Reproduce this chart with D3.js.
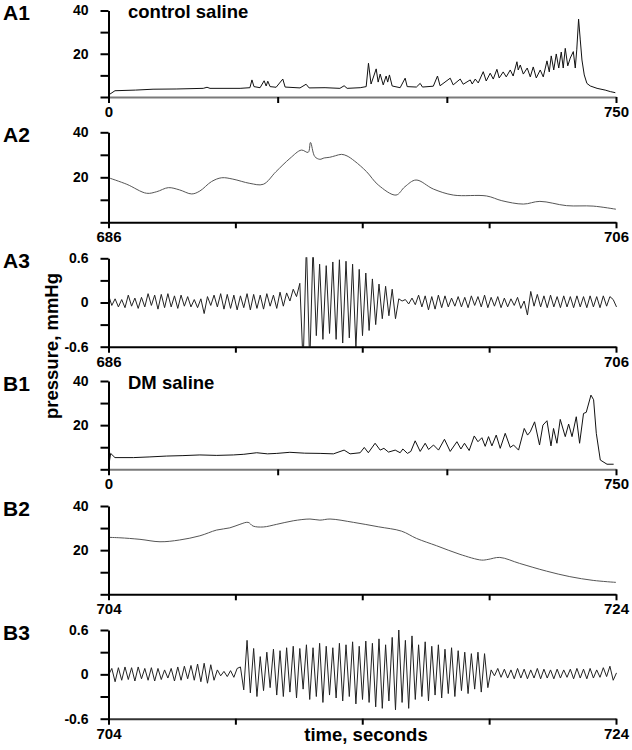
<!DOCTYPE html>
<html>
<head>
<meta charset="utf-8">
<script src="https://cdn.jsdelivr.net/npm/d3@7"></script>
<style>
body { margin: 0; background: #fff; }
svg { display: block; }
text { font-family: "Liberation Sans", Arial, sans-serif; font-weight: bold; fill: #000; }
</style>
</head>
<body>
<div id="chart"></div>
<script>
// ---- data ----
// A1 / B1: whole recording, [seconds, mmHg]
var a1Trace = [[0,0.9],[9.6,2.9],[40,3.2],[65.8,3.6],[100,3.7],[140,4.0],[145.6,4.5],[150,4.0],[194.5,4.0],[209,4.3],[212,7.9],[215,4.8],[224,4.3],[230,7.5],[233,5.1],[235.4,7.3],[238.8,4.8],[247.7,4.5],[257.6,8.3],[261,4.6],[283,4.2],[292,5.9],[296.5,4.2],[320,4.3],[342,4.0],[348.2,5.2],[352.7,4.0],[372,4.3],[380.8,4.8],[384.2,15.6],[388,6.0],[395.6,13],[398.5,6.9],[401.5,10.6],[406,5.6],[410.3,9.7],[412.6,6.9],[415.2,10.2],[419.2,5.1],[431,4.3],[438.4,8.7],[441.4,4.8],[455,4.6],[460.6,6.3],[464,4.6],[480,5.0],[486.2,9.7],[490,5.2],[505,8.7],[509.4,5.6],[519.8,8.3],[524.2,5.9],[534.6,7.9],[537.5,6.0],[542,8.3],[546.4,6.5],[553.8,11.7],[558.2,7.4],[564.1,11],[568.6,8.3],[574,12.8],[577.4,8.8],[583.3,11.6],[587.8,9.3],[593.7,12.5],[598,9.7],[603.6,16.3],[605.5,12.5],[608.5,14.8],[613,10.6],[618.8,13.4],[623.3,9.3],[627.7,13.9],[632.2,8.8],[638,12.5],[642.5,9.3],[648,16.7],[651.4,11.6],[654.3,19],[658,12.5],[661.7,19.9],[665.4,13.4],[669.1,20.8],[672,13.4],[675,22.5],[678.7,14.4],[682.4,18],[686.9,21],[689.8,13.4],[692,21.8],[694.7,36],[697.2,26.4],[699.7,17.1],[703.1,10.2],[707,6.3],[712,5.1],[722,4.0],[734,3.2],[741.6,2.5],[749,2.0]];

var b1Trace = [[0,0.9],[3.2,7.2],[9.6,5.3],[36.7,5.3],[60,5.6],[86,6.0],[110,6.2],[135,6.5],[160,6.3],[184.5,6.5],[200,6.8],[219,7.5],[235,7.0],[248.7,7.2],[268,7.7],[290,7.3],[312.7,7.2],[332.4,7.0],[348.2,8.7],[357,7.0],[371.9,7.5],[378,9.9],[384,7.5],[394,11.8],[401.5,8.7],[407,9.5],[413.8,7.8],[423.7,8.7],[431,7.5],[435,9.2],[441.8,7.2],[446.8,8.1],[453.2,12.9],[460.6,8.1],[468,11.8],[473,9.0],[480.3,11],[487.7,8.7],[496.5,13.6],[505,8.1],[514.9,12.5],[520.8,9.2],[526.1,11.8],[533,8.5],[540.5,15.1],[546,12.5],[551.8,14.3],[556.7,10.4],[561.6,14.8],[566.6,10.6],[573,15.5],[578.9,9.5],[586.3,16.3],[593.7,9.9],[598.6,11],[606,8.7],[614.4,18.5],[619.3,15.5],[623.3,17],[629.7,21.5],[637,11],[642,20],[648,22],[653.9,10.6],[657.7,18.5],[662.7,11.8],[667.6,22.6],[675,14.8],[680,20.5],[685,14.8],[691.3,23.8],[696.2,11.8],[702,25.3],[706,25.8],[713,33.6],[716.9,31.5],[720.9,16.3],[726.8,4.2],[736.7,2.3],[746.5,2.3]];

// A2 / B2: 20 s windows, [seconds, mmHg]
var a2Trace = [[686,19.8],[686.72,16.9],[687.5,12.9],[687.9,13.6],[688.36,15.4],[688.8,14.4],[689.28,12.6],[689.6,13.9],[690.06,18.1],[690.46,19.8],[690.9,19.2],[691.57,17.3],[692.1,16.9],[692.6,22.5],[693.15,28.4],[693.6,32.1],[693.87,31.1],[693.96,35.5],[694.13,29.2],[694.33,28.0],[694.5,28.6],[694.72,28.9],[694.95,29.6],[695.18,30.2],[695.4,29.5],[695.7,27.2],[696.17,22.5],[696.63,16.6],[697.33,12.1],[697.68,15.8],[698.12,18.8],[698.8,14.8],[699.59,12.1],[700.9,11.7],[701.5,9.6],[702.35,8.1],[703,9.3],[704.05,7.4],[705.1,7.2],[706,5.8]];

var b2Trace = [[704,25.8],[704.45,25.6],[705.24,24.9],[706.03,23.8],[706.8,24.6],[707.6,26.5],[708.26,29.1],[708.78,30.1],[709.18,31.7],[709.5,32.6],[709.7,30.9],[710.1,30.5],[710.63,31.7],[711.28,33.3],[711.94,34.1],[712.33,33.6],[712.73,34.1],[713.65,32.6],[714.63,30.6],[715.55,28.6],[716.14,25.3],[716.93,22],[717.85,18.1],[718.7,15.5],[718.96,15.8],[719.42,16.7],[720.2,14],[721.26,10.5],[722.18,8],[723.1,6.3],[724,5.4]];

// A3 / B3: filtered trace, one value per 0.13 s (peaks and troughs), mmHg
var a3Start = 686, b3Start = 704, oscStep = 0.13;
var a3Values = [0.10,-0.04,0.05,-0.06,0.04,-0.07,0.10,-0.05,0.06,-0.08,
  0.07,-0.06,0.12,-0.04,0.10,-0.09,0.11,-0.07,0.12,-0.06,
  0.09,-0.08,0.10,-0.05,0.08,-0.06,0.04,-0.07,0.05,-0.15,
  0.08,-0.04,0.10,-0.06,0.12,-0.09,0.11,-0.08,0.10,-0.10,
  0.09,-0.07,0.12,-0.10,0.11,-0.08,0.10,-0.09,0.12,-0.05,
  0.10,-0.08,0.14,-0.05,0.13,0.02,0.18,0.08,0.26,-0.85,
  0.80,-0.85,0.75,-0.45,0.52,-0.50,0.50,-0.42,0.55,-0.50,
  0.58,-0.55,0.56,-0.48,0.52,-0.62,0.45,-0.45,0.40,-0.38,
  0.32,-0.30,0.25,-0.22,0.22,-0.18,0.18,-0.22,0.05,0.02,
  0.04,-0.02,0.06,-0.03,0.10,-0.06,0.09,-0.10,0.08,-0.09,
  0.10,-0.07,0.09,-0.06,0.06,-0.05,0.08,-0.06,0.07,-0.07,
  0.09,-0.04,0.08,-0.06,0.10,-0.07,0.07,-0.05,0.08,-0.07,
  0.06,-0.06,0.05,-0.04,0.07,-0.08,0.02,-0.17,0.15,-0.05,
  0.11,-0.06,0.09,-0.07,0.10,-0.06,0.08,-0.07,0.09,-0.06,
  0.08,-0.07,0.09,-0.06,0.08,-0.07,0.09,-0.06,0.08,-0.07,
  0.09,-0.05,0.08,0.04,-0.06];

var b3Values = [-0.01,0.08,-0.10,0.09,-0.08,0.10,-0.07,0.09,-0.09,0.10,
  -0.06,0.08,-0.08,0.09,-0.09,0.08,-0.07,0.06,-0.05,0.08,
  -0.09,0.10,-0.08,0.11,-0.06,0.12,-0.08,0.14,-0.10,0.15,
  -0.12,0.13,-0.08,0.06,-0.02,0.04,-0.03,0.05,-0.04,0.08,
  0.10,-0.21,0.46,-0.25,0.35,-0.30,0.24,-0.22,0.30,-0.18,
  0.34,-0.28,0.32,-0.30,0.36,-0.24,0.38,-0.32,0.35,-0.20,
  0.40,-0.34,0.36,-0.30,0.42,-0.38,0.38,-0.28,0.36,-0.32,
  0.42,-0.36,0.40,-0.30,0.44,-0.40,0.38,-0.34,0.45,-0.38,
  0.42,-0.44,0.48,-0.46,0.40,-0.36,0.50,-0.48,0.60,-0.38,
  0.46,-0.46,0.52,-0.34,0.40,-0.30,0.44,-0.36,0.38,-0.28,
  0.40,-0.32,0.34,-0.26,0.36,-0.30,0.32,-0.22,0.30,-0.26,
  0.28,-0.20,0.30,-0.24,0.28,-0.18,0.06,-0.02,0.08,-0.04,
  0.07,-0.05,0.06,-0.06,0.08,-0.05,0.07,-0.06,0.06,-0.05,
  0.08,-0.06,0.07,-0.05,0.06,-0.06,0.07,-0.05,0.06,-0.04,
  0.07,-0.06,0.08,-0.05,0.07,-0.06,0.08,-0.05,0.06,-0.04,
  0.09,-0.03,0.11,-0.08,0.02];

var panelNames = ["A1", "A2", "A3", "B1", "B2", "B3"];
var panelTitles = ["control saline", "", "", "DM saline", "", ""];
var longTicks = [0, 250, 500, 750];
var pressureTicks = [0, 10, 20, 30, 40];
var pressureLabels = [20, 40];
var oscTicks = [-0.6, -0.3, 0, 0.3, 0.6];
var oscLabels = [-0.6, 0, 0.6];

// ---- layout ----
var width = 632, height = 750;
var left = 108.5, right = 616;

function toPairs(start, vals) {
    return vals.map(function(v, i) { return [start + i * oscStep, v]; });
}

var panels = [
    { top: 10.5, h: 86.5, xDom: [0, 750], xTicks: longTicks, yDom: [0, 40], yTicks: pressureTicks, yLabels: pressureLabels, data: a1Trace, axisColor: "#7a7a7a", line: "#111", curve: d3.curveLinear },
    { top: 132.3, h: 90, xDom: [686, 706], xTicks: [686, 691, 696, 701, 706], yDom: [0, 40], yTicks: pressureTicks, yLabels: pressureLabels, data: a2Trace, axisColor: "#000", line: "#555", curve: d3.curveCatmullRom },
    { top: 258.3, h: 88.4, xDom: [686, 706], xTicks: [686, 691, 696, 701, 706], yDom: [-0.6, 0.6], yTicks: oscTicks, yLabels: oscLabels, data: toPairs(a3Start, a3Values), axisColor: "#000", line: "#222", curve: d3.curveLinear },
    { top: 381, h: 88.3, xDom: [0, 750], xTicks: longTicks, yDom: [0, 40], yTicks: pressureTicks, yLabels: pressureLabels, data: b1Trace, axisColor: "#7a7a7a", line: "#111", curve: d3.curveLinear },
    { top: 506, h: 88.3, xDom: [704, 724], xTicks: [704, 709, 714, 719, 724], yDom: [0, 40], yTicks: pressureTicks, yLabels: pressureLabels, data: b2Trace, axisColor: "#000", line: "#555", curve: d3.curveCatmullRom },
    { top: 630, h: 88.7, xDom: [704, 724], xTicks: [704, 709, 714, 719, 724], yDom: [-0.6, 0.6], yTicks: oscTicks, yLabels: oscLabels, data: toPairs(b3Start, b3Values), axisColor: "#333", line: "#222", curve: d3.curveLinear }
];

var svg = d3.select("#chart")
    .append("svg")
    .attr("width", width)
    .attr("height", height);

panels.forEach(function(p, k) {
    var x = d3.scaleLinear().domain(p.xDom).range([left, right]);
    var y = d3.scaleLinear().domain(p.yDom).range([p.top + p.h, p.top]);
    var g = svg.append("g");

    g.append("clipPath").attr("id", "clip" + k)
        .append("rect")
        .attr("x", left).attr("y", p.top - 1)
        .attr("width", right - left + 1).attr("height", p.h + 1);

    g.append("path")
        .datum(p.data)
        .attr("clip-path", "url(#clip" + k + ")")
        .attr("fill", "none")
        .attr("stroke", p.line)
        .attr("stroke-width", 1)
        .attr("stroke-linejoin", "round")
        .attr("d", d3.line().curve(p.curve).x(function(d) { return x(d[0]); }).y(function(d) { return y(d[1]); }));

    var xAxis = g.append("g")
        .attr("transform", "translate(0," + (p.top + p.h) + ")")
        .call(d3.axisBottom(x)
            .tickValues(p.xTicks)
            .tickSize(6)
            .tickSizeOuter(0)
            .tickPadding(3.5)
            .tickFormat(function(d, i) { return (i === 0 || i === p.xTicks.length - 1) ? d : ""; }));
    xAxis.select(".domain").attr("stroke", p.axisColor).attr("stroke-width", 2);
    xAxis.selectAll(".tick line").attr("stroke", "#000").attr("stroke-width", 2);
    xAxis.selectAll("text").style("font-size", "15px").attr("fill", "#000");

    var yAxis = g.append("g")
        .attr("transform", "translate(" + left + ",0)")
        .call(d3.axisLeft(y)
            .tickValues(p.yTicks)
            .tickSize(8)
            .tickSizeOuter(0)
            .tickPadding(12)
            .tickFormat(function(d) { return p.yLabels.indexOf(d) >= 0 ? String(d) : ""; }));
    yAxis.select(".domain").attr("stroke", "#000").attr("stroke-width", 2);
    yAxis.selectAll(".tick line").attr("stroke", "#000").attr("stroke-width", 2);
    yAxis.selectAll("text").style("font-size", "14px").attr("fill", "#000");

    svg.append("text")
        .attr("x", 3)
        .attr("y", p.top + 9.5)
        .style("font-size", "21px")
        .text(panelNames[k]);

    if (panelTitles[k]) {
        svg.append("text")
            .attr("x", 128)
            .attr("y", p.top + 7.8)
            .style("font-size", "18.5px")
            .text(panelTitles[k]);
    }
});

svg.append("text")
    .attr("transform", "translate(58,346) rotate(-90)")
    .attr("text-anchor", "middle")
    .style("font-size", "18.5px")
    .text("pressure, mmHg");

svg.append("text")
    .attr("x", 366)
    .attr("y", 741)
    .attr("text-anchor", "middle")
    .style("font-size", "18.5px")
    .text("time, seconds");
</script>
</body>
</html>
